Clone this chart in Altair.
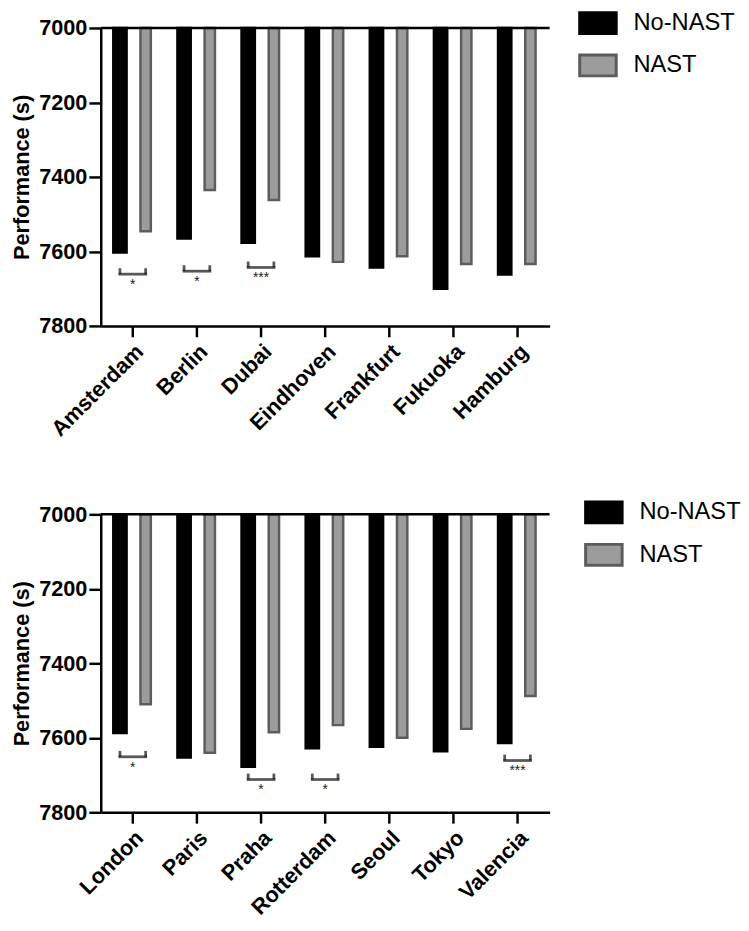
import altair as alt
import pandas as pd

series = ["No-NAST", "NAST"]

top_cities = ["Amsterdam", "Berlin", "Dubai", "Eindhoven", "Frankfurt", "Fukuoka", "Hamburg"]
top_no_nast = [7603, 7565, 7577, 7613, 7643, 7700, 7662]
top_nast = [7546, 7435, 7462, 7628, 7613, 7634, 7634]
top_sig_city = ["Amsterdam", "Berlin", "Dubai"]
top_sig_y = [7661, 7653, 7643]
top_sig_txt = ["*", "*", "***"]

bot_cities = ["London", "Paris", "Praha", "Rotterdam", "Seoul", "Tokyo", "Valencia"]
bot_no_nast = [7587, 7653, 7678, 7628, 7624, 7636, 7614]
bot_nast = [7510, 7640, 7585, 7566, 7600, 7576, 7488]
bot_sig_city = ["London", "Praha", "Rotterdam", "Valencia"]
bot_sig_y = [7651, 7712, 7712, 7661]
bot_sig_txt = ["*", "*", "*", "***"]

FONT = "Liberation Sans"
FILL = ["#000000", "#9c9c9c"]
STROKE = ["#000000", "#5c5c5c"]


def panel(cities, no_vals, nast_vals, sig_city, sig_y, sig_txt, legend_x, legend_y):
    bars = pd.DataFrame({
        "city": cities * 2,
        "group": [series[0]] * len(cities) + [series[1]] * len(cities),
        "value": list(no_vals) + list(nast_vals),
    })
    sig = pd.DataFrame({"city": sig_city, "y": sig_y, "txt": sig_txt})
    tips = pd.DataFrame({
        "city": list(sig_city) * 2,
        "group": [series[0]] * len(sig_city) + [series[1]] * len(sig_city),
        "y": list(sig_y) * 2,
    })

    xenc = alt.X("city:N", sort=cities, title=None,
                 scale=alt.Scale(domain=cities, paddingInner=0, paddingOuter=0),
                 axis=alt.Axis(labelFontSize=22))
    yenc = alt.Y("value:Q", title="Performance (s)",
                 scale=alt.Scale(domain=[7000, 7800], reverse=True, nice=False, zero=False),
                 axis=alt.Axis(values=[7000, 7200, 7400, 7600, 7800], format="d",
                               labelFontSize=22))
    xoff = alt.XOffset("group:N", sort=series,
                       scale=alt.Scale(domain=series, paddingInner=0.385, paddingOuter=0.44))
    leg = alt.Legend(orient="none", legendX=legend_x, legendY=legend_y)

    bar_layer = alt.Chart(bars).mark_bar(strokeWidth=2.5).encode(
        x=xenc,
        xOffset=xoff,
        y=yenc,
        y2=alt.datum(7000),
        size=alt.Size("group:N", sort=series, scale=alt.Scale(domain=series, range=[13.5, 10.5]),
                      legend=None),
        color=alt.Color("group:N", sort=series, title=None,
                        scale=alt.Scale(domain=series, range=FILL), legend=leg),
        stroke=alt.Stroke("group:N", sort=series, title=None,
                          scale=alt.Scale(domain=series, range=STROKE), legend=leg),
    )

    base_line = alt.Chart(pd.DataFrame({"k": [0]})).mark_rule(color="black", strokeWidth=2.5).encode(
        y=alt.datum(7000)
    )

    bracket = alt.Chart(sig).mark_tick(orient="horizontal", size=29, thickness=2.8,
                                       color="#111111").encode(
        x=alt.X("city:N", sort=cities),
        y=alt.Y("y:Q"),
    )
    tip_layer = alt.Chart(tips).mark_tick(orient="vertical", size=6, thickness=2.8,
                                          color="#111111", yOffset=-3).encode(
        x=alt.X("city:N", sort=cities),
        xOffset=alt.XOffset("group:N", sort=series),
        y=alt.Y("y:Q"),
    )
    stars = alt.Chart(sig).mark_text(font=FONT, fontSize=14, color="#222222", baseline="top",
                                     dy=4).encode(
        x=alt.X("city:N", sort=cities),
        y=alt.Y("y:Q"),
        text="txt:N",
    )

    return alt.layer(bar_layer, base_line, bracket, tip_layer, stars).properties(
        width=455, height=302
    )


top = panel(top_cities, top_no_nast, top_nast, top_sig_city, top_sig_y, top_sig_txt, 484, -25)
bot = panel(bot_cities, bot_no_nast, bot_nast, bot_sig_city, bot_sig_y, bot_sig_txt, 490, -22)

chart = (
    alt.vconcat(top, bot, spacing=53)
    .resolve_legend(color="independent", stroke="independent")
    .resolve_scale(color="independent", stroke="independent", x="independent")
    .configure_view(stroke=None)
    .configure_axis(
        labelFont=FONT, labelFontWeight="bold", labelColor="black",
        titleFont=FONT, titleFontWeight="bold", titleColor="black",
        domainColor="black", domainWidth=2.5, tickColor="black", tickWidth=2.5, grid=False,
    )
    .configure_axisX(labelAngle=-45, labelFontSize=22, tickSize=11, labelPadding=4,
                     labelAlign="right", labelBaseline="top")
    .configure_axisY(labelFontSize=22, titleFontSize=22, tickSize=12, labelPadding=2,
                     titlePadding=5)
    .configure_legend(symbolType="M-1,-0.57 L1,-0.57 L1,0.57 L-1,0.57 Z", symbolSize=1369,
                      symbolStrokeWidth=3, labelFont=FONT, labelFontSize=24, labelColor="black",
                      labelOffset=16, rowPadding=6, padding=0, labelLimit=300)
    .properties(padding={"left": 3, "top": -11, "right": 0, "bottom": 0})
)

chart.save("out.html", embed_options={"renderer": "svg", "actions": False})
